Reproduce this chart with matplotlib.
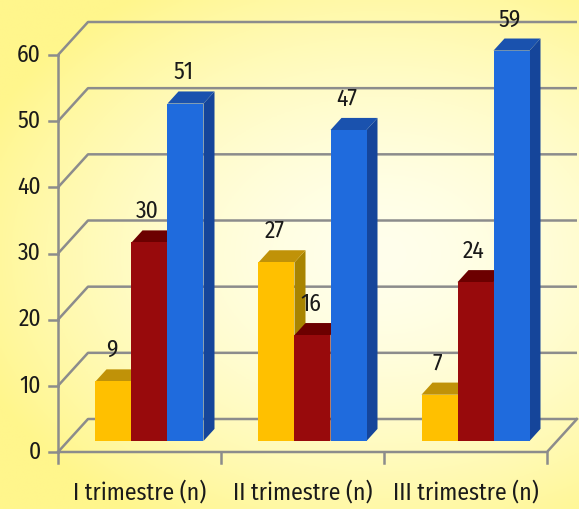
import numpy as np
import matplotlib
matplotlib.use("Agg")
import matplotlib.pyplot as plt
from matplotlib.patches import Polygon
from matplotlib import font_manager as fm

categories = ["I trimestre (n)", "II trimestre (n)", "III trimestre (n)"]
series_a = [9, 27, 7]      # yellow
series_b = [30, 16, 24]    # dark red
series_c = [51, 47, 59]    # blue
yticks = [0, 10, 20, 30, 40, 50, 60]

front_cols = ["#FFC000", "#980A0C", "#1F6BDD"]
top_cols = ["#C09208", "#6C0000", "#1A52AE"]
side_cols = ["#A88400", "#700000", "#15459A"]

names = {f.name for f in fm.fontManager.ttflist}
FONT = "DejaVu Sans"
for cand in ["Fira Sans Condensed", "Open Sans Condensed", "Encode Sans Condensed",
             "Archivo Narrow", "Liberation Sans Narrow"]:
    if cand in names:
        FONT = cand
        break
plt.rcParams["font.family"] = [FONT, "DejaVu Sans"]
FS = 17
TXT = "#1A1A1A"

W, H, DPI = 579, 509, 100
fig = plt.figure(figsize=(W / DPI, H / DPI), dpi=DPI)

# background gradient
bg = fig.add_axes([0, 0, 1, 1])
yy, xx = np.mgrid[0:1:200j, 0:1:230j]
d = np.sqrt(((xx - 0.66) / 0.75) ** 2 + ((yy - 0.5) / 0.62) ** 2)
t = np.clip(d, 0, 1) ** 1.6
c0 = np.array([255, 255, 236]) / 255.0
c1 = np.array([255, 246, 140]) / 255.0
img = c0[None, None, :] * (1 - t[..., None]) + c1[None, None, :] * t[..., None]
bg.imshow(img, aspect="auto", extent=[0, 1, 0, 1], origin="upper")
bg.axis("off")

# main axes: x in category units, y in value units
px_x = 163.0            # pixels per category
px_y = 397.0 / 60.0     # pixels per value unit
x0_px, y0_px = 58.0, 452.0
xlim = (-0.5 - x0_px / px_x, -0.5 + (W - x0_px) / px_x)
ylim = (-(H - y0_px) / px_y, y0_px / px_y)
ax = fig.add_axes([0, 0, 1, 1], facecolor="none")
ax.set_xlim(*xlim)
ax.set_ylim(*ylim)
ax.axis("off")

DX = 30.0 / px_x   # full depth offset (x)
DY = 33.0 / px_y   # full depth offset (y)
grid_c = "#8C8C8C"
glw = 1.8
nc = len(categories)
xl, xr = -0.5, nc - 0.5

# gridlines: side wall diagonals + back wall lines
for v in yticks:
    ax.plot([xl, xl + DX, xr + DX], [v, v + DY, v + DY], color=grid_c, lw=glw,
            solid_capstyle="butt", zorder=1)
# floor front edge and right edge
ax.plot([xl, xr, xr + DX], [0, 0, DY], color=grid_c, lw=glw, zorder=1)
# value axis
ax.plot([xl, xl], [0, yticks[-1]], color=grid_c, lw=glw, zorder=1)
tick_len_x = 9.0 / px_x
tick_len_y = 11.0 / px_y
for v in yticks:
    ax.plot([xl - tick_len_x, xl], [v, v], color=grid_c, lw=glw, zorder=1)
    ax.text(xl - 17.0 / px_x, v, str(v), ha="right", va="center", fontsize=FS,
            color=TXT)
for k in range(nc + 1):
    ax.plot([xl + k, xl + k], [0, -tick_len_y], color=grid_c, lw=glw, zorder=1)
for i, c in enumerate(categories):
    ax.text(i, -40.0 / px_y, c, ha="center", va="center", fontsize=FS, color=TXT)

# bars
bw = 36.0 / px_x
f0, f1 = 10.0 / 30.0, 21.0 / 30.0   # bar front/back depth fractions
series = [series_a, series_b, series_c]
for i in range(nc):
    start = i - 1.5 * bw
    for k, s in enumerate(series):
        v = s[i]
        xa = start + k * bw + f0 * DX
        ya = f0 * DY
        ddx = (f1 - f0) * DX
        ddy = (f1 - f0) * DY
        z = 5 + k
        front = Polygon([[xa, ya], [xa + bw, ya], [xa + bw, ya + v], [xa, ya + v]],
                        closed=True, fc=front_cols[k], ec="none", zorder=z)
        side = Polygon([[xa + bw, ya], [xa + bw + ddx, ya + ddy],
                        [xa + bw + ddx, ya + v + ddy], [xa + bw, ya + v]],
                       closed=True, fc=side_cols[k], ec="none", zorder=z)
        top = Polygon([[xa, ya + v], [xa + bw, ya + v], [xa + bw + ddx, ya + v + ddy],
                       [xa + ddx, ya + v + ddy]],
                      closed=True, fc=top_cols[k], ec="none", zorder=z)
        for p in (side, top, front):
            ax.add_patch(p)
        ax.text(xa + bw / 2 - 2.0 / px_x, ya + v + 31.0 / px_y, str(v), ha="center",
                va="center", fontsize=FS, color=TXT, zorder=20)

fig.savefig("out.png", dpi=DPI)
